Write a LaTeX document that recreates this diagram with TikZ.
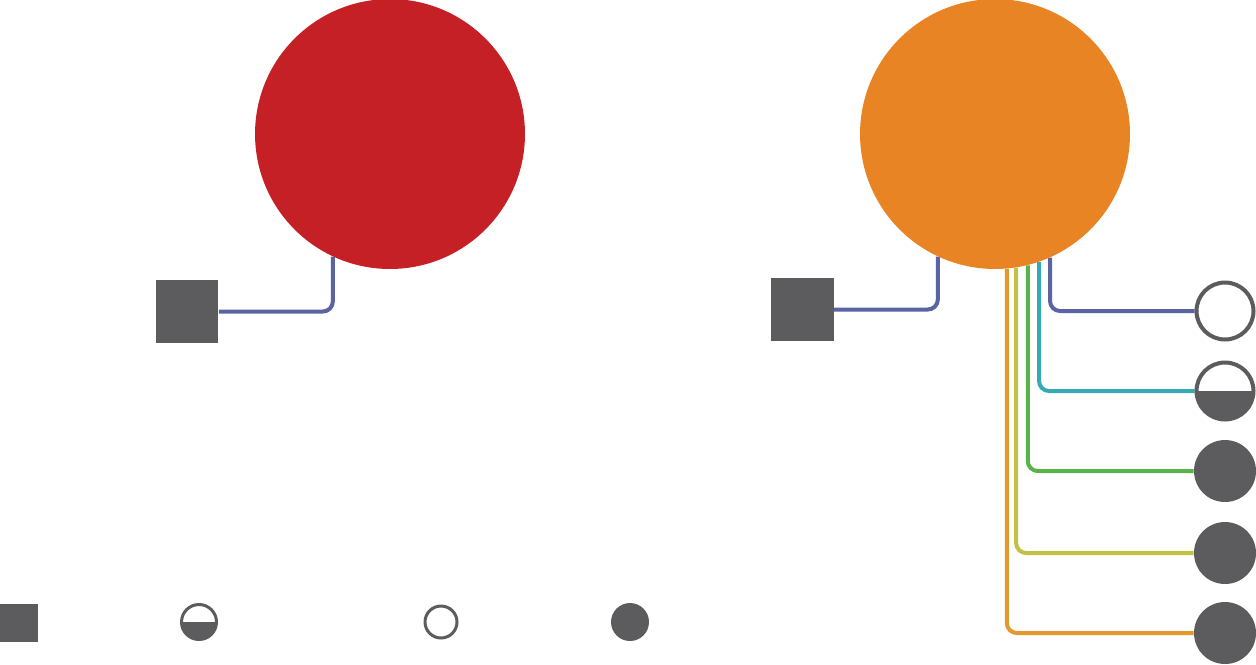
\documentclass[tikz,border=0pt]{standalone}
\usetikzlibrary{backgrounds}
\definecolor{cred}{HTML}{C52026}
\definecolor{corange}{HTML}{E88424}
\definecolor{cgray}{HTML}{5C5C5E}
\definecolor{cpurple}{HTML}{5B64A3}
\definecolor{cteal}{HTML}{35A9B5}
\definecolor{cgreen}{HTML}{5AB24B}
\definecolor{cyellow}{HTML}{C2C144}
\definecolor{corline}{HTML}{E0992A}
\tikzset{
  big/.style={circle,draw=none,inner sep=0pt,minimum size=5.4cm},
  sq/.style={rectangle,fill=cgray,draw=none,inner sep=0pt,minimum size=#1},
  conn/.style={line width=0.08cm,rounded corners=0.2cm},
  opencirc/.style={circle,draw=cgray,fill=white,line width=#1,inner sep=0pt},
  fullcirc/.style={circle,fill=cgray,draw=none,inner sep=0pt},
  halfcirc/.style={circle,draw=cgray,fill=white,line width=#1,inner sep=0pt,
    path picture={\fill[cgray] (path picture bounding box.west) rectangle (path picture bounding box.south east);}},
}
\begin{document}
\begin{tikzpicture}[x=0.02cm,y=-0.02cm]
\useasboundingbox (0,0) rectangle (1256,664);
% main circles
\node[big,fill=cred] (red) at (390,134) {};
\node[big,fill=corange] (orange) at (995,134) {};
% squares
\node[sq=1.26cm] (sqL) at (187,311.5) {};
\node[sq=1.26cm] (sqR) at (802,309.5) {};
% right symbols
\node[opencirc=0.08cm,minimum size=1.14cm] (c1) at (1225,311) {};
\node[halfcirc=0.08cm,minimum size=1.14cm] (c2) at (1225,391) {};
\node[fullcirc,minimum size=1.24cm] (c3) at (1225,471) {};
\node[fullcirc,minimum size=1.24cm] (c4) at (1225,553) {};
\node[fullcirc,minimum size=1.24cm] (c5) at (1225,633) {};
% legend
\node[sq=0.77cm] (lsq) at (19,623) {};
\node[halfcirc=0.06cm,minimum size=0.7cm] (lhalf) at (199,622) {};
\node[opencirc=0.06cm,minimum size=0.64cm] (lopen) at (441,622) {};
\node[fullcirc,minimum size=0.76cm] (lfull) at (630,622) {};
\begin{scope}[on background layer]
\draw[conn,cpurple] (sqL.east) -| (red.-115);
\draw[conn,cpurple] (sqR.east) -| (orange.-115);
\draw[conn,cpurple] (orange.-66) |- (c1.west);
\draw[conn,cteal] (orange.-71.4) |- (c2.west);
\draw[conn,cgreen] (orange.-76.3) |- (c3.west);
\draw[conn,cyellow] (orange.-81) |- (c4.west);
\draw[conn,corline] (orange.-85.8) |- (c5.west);
\end{scope}
\end{tikzpicture}
\end{document}
